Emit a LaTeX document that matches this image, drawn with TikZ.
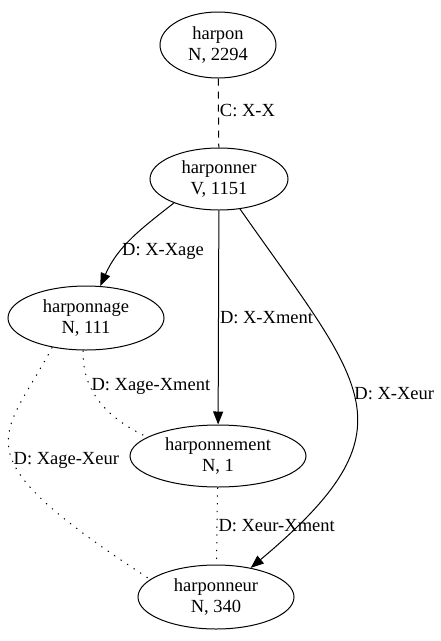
\documentclass[tikz,border=0pt]{standalone}
\usepackage{fontspec}
\setmainfont{Liberation Serif}
\usetikzlibrary{arrows.meta, shapes.geometric}

\begin{document}
\begin{tikzpicture}[x=1pt, y=1pt, line width=1pt,
    lex/.style={draw, ellipse, inner sep=0pt, align=center,
      font=\fontsize{18.5}{20.5}\selectfont},
    rel/.style={font=\fontsize{18.5}{20.5}\selectfont, inner sep=1pt},
    derive/.style={-{Triangle[length=13pt, width=10pt]}},
    compound/.style={dash pattern=on 7pt off 6pt},
    sibling/.style={dash pattern=on 1.3pt off 6.5pt}]
  \useasboundingbox (0,0) rectangle (441,-641);
  % --- words ---
  \node[lex, minimum width=116, minimum height=66] (harpon) at (218,-45) {harpon\\N, 2294};
  \node[lex, minimum width=138, minimum height=62] (harponner) at (219,-179) {harponner\\V, 1151};
  \node[lex, minimum width=156, minimum height=64] (harponnage) at (86,-318) {harponnage\\N, 111};
  \node[lex, minimum width=176, minimum height=62] (harponnement) at (218,-456) {harponnement\\N, 1};
  \node[lex, minimum width=156, minimum height=64] (harponneur) at (216,-597) {harponneur\\N, 340};
  % --- compound / derivations ---
  \draw[compound] (harpon) -- node[rel, right, pos=0.47] {C: X-X} (harponner);
  \draw[derive] (harponner.208) to[out=218, in=66] node[rel, right, pos=0.65] {D: X-Xage} (harponnage);
  \draw[derive] (harponner) -- node[rel, right, pos=0.5] {D: X-Xment} (harponnement);
  \draw[derive] (harponner) to[out=-55, in=40, looseness=1.55] node[rel, right, pos=0.47] {D: X-Xeur} (harponneur);
  % --- links between derived words ---
  \draw[sibling] (harponnage.265) to[out=-92, in=155] node[rel, right, pos=0.32] {D: Xage-Xment} (harponnement.165);
  \draw[sibling] (harponnage.221) .. controls +(-50,-94) and +(-195,127) .. node[rel, right, pos=0.55] {D: Xage-Xeur} (harponneur.165);
  \draw[sibling] (harponnement) -- node[rel, right, pos=0.5] {D: Xeur-Xment} (harponneur);
\end{tikzpicture}
\end{document}
